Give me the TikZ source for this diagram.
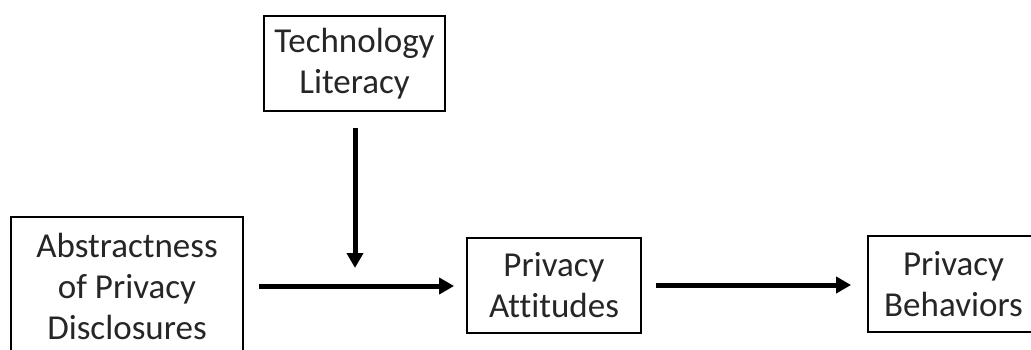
\documentclass[tikz,border=0pt]{standalone}
\usepackage{fontspec}
\setmainfont{Carlito}[Ligatures=NoCommon]
\usetikzlibrary{arrows.meta}
\begin{document}
\begin{tikzpicture}[x=1pt,y=-1pt,
  box/.style={draw=black,line width=1.8pt,inner sep=0pt,align=center,
    font=\fontsize{35}{41}\selectfont,text=black!85},
  conn/.style={line width=5pt,-{Triangle[length=15pt,width=16pt]}}]
\useasboundingbox (0,0) rectangle (1031,350);
\node[box,minimum width=181pt,minimum height=95pt] (tech) at (354.5,63.5) {Technology\\Literacy};
\node[box,minimum width=232pt,minimum height=139pt] (abs) at (127,286.5) {Abstractness\\of Privacy\\Disclosures};
\node[box,minimum width=174pt,minimum height=95pt] (att) at (554,285.5) {Privacy\\Attitudes};
\node[box,minimum width=171pt,minimum height=96pt] (beh) at (953.5,284) {Privacy\\Behaviors};
\coordinate (mid) at (355,286);
\draw[conn,shorten <=15pt,shorten >=12pt] (abs.east |- mid) -- (att.west |- mid);
\draw[conn,shorten <=14pt,shorten >=16pt] (att.east |- 0,285) -- (beh.west |- 0,285);
\draw[conn,shorten <=16pt,shorten >=18pt] (tech.south -| mid) -- (mid);
\end{tikzpicture}
\end{document}
